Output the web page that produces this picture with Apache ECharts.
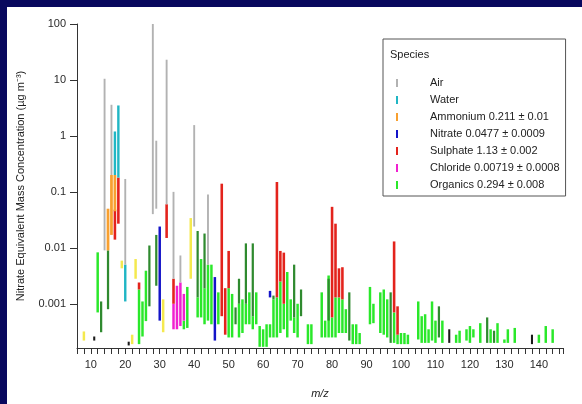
<!DOCTYPE html>
<html>
<head>
<meta charset="utf-8">
<script src="https://cdn.jsdelivr.net/npm/echarts@6/dist/echarts.min.js"></script>
<style>
html,body{margin:0;padding:0;background:#08085e;width:582px;height:404px;overflow:hidden;}
#chart{position:absolute;left:7px;top:7px;width:575px;height:397px;background:#ffffff;}
</style>
</head>
<body>
<div id="chart"></div>
<script>
// Each entry: [m/z, lower value, upper value] in ug m-3 (nitrate equivalent)
var air = [[14,0.009,10.5],[16,0.2,3.6],[20,0.005,0.17],[28,0.04,100],[29,0.05,0.82],[32,0.06,23],[34,0.0028,0.1],[36,0.0024,0.0073],[40,0.024,1.56],[44,0.005,0.09]];
var water = [[17,0.2,1.2],[18,0.18,3.5],[20,0.0011,0.005]];
var ammonium = [[15,0.009,0.05],[16,0.017,0.2],[17,0.045,0.2]];
var nitrate = [[30,0.0005,0.024],[46,0.00022,0.003],[62,0.0013,0.0017]];
var sulphate = [[17,0.014,0.048],[18,0.027,0.18],[24,0.0018,0.0024],[32,0.015,0.06],[34,0.001,0.0028],[48,0.0006,0.14],[49,0.00028,0.0019],[50,0.0019,0.0088],[64,0.0013,0.15],[65,0.0025,0.0088],[66,0.001,0.0082],[80,0.00057,0.054],[81,0.0013,0.027],[82,0.0013,0.0043],[83,0.0012,0.0045],[98,0.0007,0.013],[99,0.00028,0.0009]];
var chloride = [[34,0.00035,0.001],[35,0.00035,0.0021],[36,0.0004,0.0024],[37,0.0005,0.0015]];
var organics = [[12,0.0007,0.0083],[24,0.00019,0.0018],[25,0.00026,0.0011],[26,0.00049,0.0039],[37,0.00035,0.0005],[38,0.00037,0.002],[41,0.00057,0.0013],[42,0.00057,0.0063],[43,0.00043,0.0019],[44,0.0005,0.005],[45,0.00043,0.005],[47,0.00043,0.0016],[50,0.00025,0.0019],[51,0.00025,0.0015],[53,0.00025,0.001],[54,0.0003,0.0012],[55,0.00043,0.001],[56,0.00043,0.0016],[57,0.00035,0.0006],[58,0.00043,0.0016],[59,0.00017,0.0004],[60,0.00017,0.00035],[61,0.00017,0.00043],[62,0.00025,0.00043],[63,0.00025,0.0012],[64,0.00025,0.0013],[65,0.0003,0.0025],[66,0.00035,0.001],[67,0.00025,0.0037],[68,0.0005,0.0012],[69,0.0003,0.00057],[70,0.00025,0.001],[73,0.00019,0.00043],[74,0.00019,0.00043],[77,0.00025,0.0016],[78,0.00025,0.0005],[79,0.00025,0.0032],[80,0.00025,0.00057],[81,0.00025,0.0013],[82,0.0003,0.0013],[83,0.0003,0.0012],[84,0.0003,0.0008],[86,0.00019,0.00043],[87,0.00019,0.00043],[88,0.00019,0.0003],[91,0.00043,0.002],[92,0.00045,0.001],[94,0.0003,0.0016],[95,0.00028,0.0018],[96,0.00025,0.0012],[98,0.0002,0.0007],[99,0.00019,0.00028],[100,0.00019,0.0003],[101,0.00019,0.0003],[102,0.00019,0.00028],[105,0.00023,0.0011],[106,0.0002,0.0006],[107,0.0002,0.00065],[108,0.0002,0.00035],[109,0.00022,0.0011],[110,0.0002,0.0005],[112,0.0002,0.0005],[116,0.0002,0.00028],[117,0.0002,0.00033],[119,0.00022,0.00035],[120,0.0002,0.0004],[121,0.00025,0.00035],[123,0.0002,0.00045],[126,0.0002,0.00035],[128,0.0002,0.00045],[130,0.0002,0.00023],[131,0.0002,0.00035],[133,0.0002,0.00037],[140,0.0002,0.00028],[142,0.0002,0.0004],[144,0.0002,0.00035]];
var organicsDark = [[13,0.00031,0.0011],[15,0.0008,0.009],[27,0.0009,0.011],[29,0.0021,0.017],[41,0.0013,0.02],[43,0.0019,0.018],[52,0.00043,0.00086],[53,0.001,0.0028],[55,0.001,0.012],[57,0.0006,0.012],[63,0.0012,0.0014],[69,0.00057,0.005],[71,0.0006,0.0018],[79,0.0005,0.0028],[85,0.00022,0.0016],[97,0.0002,0.0016],[111,0.00025,0.0009],[125,0.0002,0.00057],[127,0.0002,0.00033]];
var other = [[8,0.00022,0.00032],[19,0.0043,0.0059],[22,0.00019,0.00028],[23,0.0028,0.0063],[31,0.00031,0.0012],[39,0.0028,0.034]];
var unknown = [[11,0.00022,0.00026],[21,0.00018,0.00021],[114,0.0002,0.00035],[138,0.00019,0.00028]];

var names = {
  air: 'Air',
  water: 'Water',
  ammonium: 'Ammonium 0.211 \u00b1 0.01',
  nitrate: 'Nitrate 0.0477 \u00b1 0.0009',
  sulphate: 'Sulphate 1.13 \u00b1 0.002',
  chloride: 'Chloride 0.00719 \u00b1 0.0008',
  organics: 'Organics 0.294 \u00b1 0.008'
};

function seg(name, data, color, frac) {
  return {
    type: 'custom',
    name: name,
    data: data,
    itemStyle: {color: color},
    encode: {x: 0, y: [1, 2]},
    renderItem: function (params, api) {
      var m = api.value(0), lo = api.value(1), hi = api.value(2);
      var top = api.coord([m, hi]);
      var bot = api.coord([m, lo]);
      var w = (api.coord([m + 0.5, hi])[0] - api.coord([m - 0.5, hi])[0]) * frac;
      return {
        type: 'rect',
        shape: {x: top[0] - w / 2, y: top[1], width: w, height: Math.max(1, bot[1] - top[1])},
        style: {fill: color}
      };
    }
  };
}

var chart = echarts.init(document.getElementById('chart'));
var font = 'Liberation Sans, Arial, sans-serif';
chart.setOption({
  animation: false,
  textStyle: {fontFamily: font},
  grid: {left: 64, top: 17, width: 492, height: 330},
  title: {
    text: 'Species', left: 378, top: 37,
    textStyle: {fontSize: 11, fontWeight: 'normal', color: '#222', fontFamily: font}
  },
  legend: {
    orient: 'vertical', left: 376, top: 32,
    padding: [38, 6, 5, 13],
    borderColor: '#555', borderWidth: 1,
    icon: 'rect', itemWidth: 2, itemHeight: 8, itemGap: 5,
    textStyle: {fontSize: 11, color: '#222', lineHeight: 12, padding: [0, 0, 0, 27], fontFamily: font},
    data: [names.air, names.water, names.ammonium, names.nitrate, names.sulphate, names.chloride, names.organics]
  },
  xAxis: {
    type: 'value', min: 6, max: 147, interval: 2,
    name: 'm/z', nameLocation: 'middle', nameGap: 40,
    nameTextStyle: {fontStyle: 'italic', fontSize: 11, color: '#222', fontFamily: font},
    axisLine: {lineStyle: {color: '#333'}},
    axisTick: {length: 6, lineStyle: {color: '#333'}},
    axisLabel: {
      margin: 11, fontSize: 11, color: '#2a2a2a', fontFamily: font,
      formatter: function (v) { return (Math.round(v) % 10 === 0) ? String(Math.round(v)) : ''; }
    },
    splitLine: {show: false}
  },
  yAxis: {
    type: 'log', min: 0.000162, max: 100,
    name: 'Nitrate Equivalent Mass Concentration (\u00b5g m\u207b\u00b3)',
    nameLocation: 'middle', nameGap: 51, nameRotate: 90,
    nameTextStyle: {fontSize: 11, color: '#222', fontFamily: font},
    axisLine: {show: true, lineStyle: {color: '#333'}},
    axisTick: {show: true, length: 7, lineStyle: {color: '#333'}},
    axisLabel: {
      margin: 11, fontSize: 11, color: '#2a2a2a', fontFamily: font, showMinLabel: false,
      formatter: function (v) {
        var l = Math.log10(v);
        if (Math.abs(l - Math.round(l)) > 1e-6) return '';
        return String(Number(Math.pow(10, Math.round(l)).toPrecision(6)));
      }
    },
    splitLine: {show: false}
  },
  series: [
    seg(names.organics, organics, '#2ae82a', 0.72),
    seg('Organics (dark)', organicsDark, '#2f8a2f', 0.65),
    seg('Other', other, '#f4e94e', 0.72),
    seg('Unknown', unknown, '#1a1a1a', 0.6),
    seg(names.chloride, chloride, '#f020d0', 0.72),
    seg(names.nitrate, nitrate, '#1414c8', 0.72),
    seg(names.sulphate, sulphate, '#e3231c', 0.75),
    seg(names.ammonium, ammonium, '#f8a030', 0.8),
    seg(names.water, water, '#20b6c4', 0.7),
    seg(names.air, air, '#b2b2b2', 0.55)
  ]
});
</script>
</body>
</html>
